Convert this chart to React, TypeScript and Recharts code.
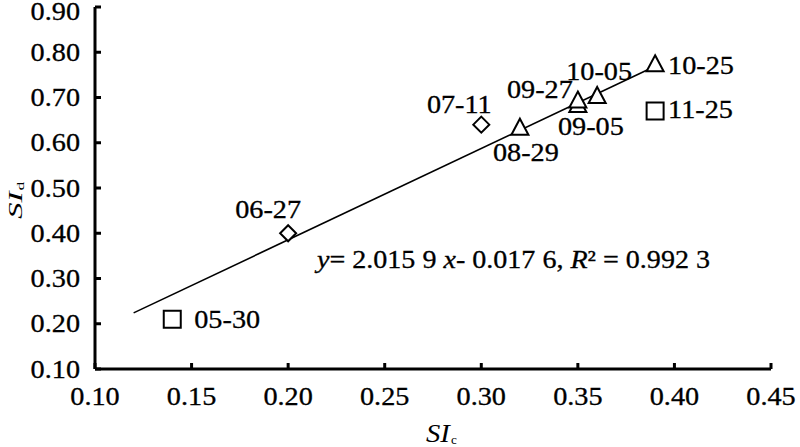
import { ScatterChart, Scatter, XAxis, YAxis } from "recharts";

// SIc vs SId, grouped by marker shape
const squarePts = [
  { x: 0.14, y: 0.21, date: "05-30" },
  { x: 0.39, y: 0.67, date: "11-25" },
];
const diamondPts = [
  { x: 0.2, y: 0.4, date: "06-27" },
  { x: 0.3, y: 0.64, date: "07-11" },
];
const trianglePts = [
  { x: 0.32, y: 0.63, date: "08-29" },
  { x: 0.35, y: 0.68, date: "09-05" },
  { x: 0.35, y: 0.69, date: "09-27" },
  { x: 0.36, y: 0.7, date: "10-05" },
  { x: 0.39, y: 0.77, date: "10-25" },
];
// fitted line ends
const fitLine = [
  { x: 0.12, y: 0.224 },
  { x: 0.39, y: 0.769 },
];
const xTicks = [0.1, 0.15, 0.2, 0.25, 0.3, 0.35, 0.4, 0.45];
const yTicks = [0.1, 0.2, 0.3, 0.4, 0.5, 0.6, 0.7, 0.8, 0.9];

// label offset from marker centre: dx, dy(baseline), anchor
const labelPlace: Record<string, [number, number, string]> = {
  "05-30": [22, 9, "start"],
  "06-27": [-20, -15, "middle"],
  "07-11": [-22, -12, "middle"],
  "08-29": [6, 32, "middle"],
  "09-05": [13, 28, "middle"],
  "09-27": [-38, -4, "middle"],
  "10-05": [2, -18, "middle"],
  "10-25": [13, 8, "start"],
  "11-25": [13, 7, "start"],
};

const FONT = "Liberation Serif, Times New Roman, serif";
const INK = "#000";

// the source figure's type is wider than plain Times, so stretch it a bit
const SText = ({ x, y, anchor = "start", size = 25, sx = 1.13, children }: any) => (
  <g transform={`translate(${x},${y}) scale(${sx},1)`}>
    <text
      x={0}
      y={0}
      textAnchor={anchor}
      style={{ fontFamily: FONT, fontSize: size }}
      fill={INK}
      stroke={INK}
      strokeWidth={0.3}
    >
      {children}
    </text>
  </g>
);

const XTick = (props: any) => {
  const { x, y, payload } = props;
  return (
    <g>
      <line x1={x} x2={x} y1={y} y2={y - 6} stroke={INK} strokeWidth={3} />
      <SText x={x} y={y + 36} anchor="middle">
        {payload.value.toFixed(2)}
      </SText>
    </g>
  );
};

const YTick = (props: any) => {
  const { x, y, payload } = props;
  return (
    <g>
      <line x1={x} x2={x + 6} y1={y} y2={y} stroke={INK} strokeWidth={3} />
      <SText x={x - 15} y={Math.max(y + 8.5, 19.5)} anchor="end">
        {payload.value.toFixed(2)}
      </SText>
    </g>
  );
};

function marker(kind: string) {
  return (props: any) => {
    const { cx, cy, payload } = props;
    let d = "";
    if (kind === "square") {
      d = `M${cx - 8.5},${cy - 8.5}h17v17h-17z`;
    } else if (kind === "diamond") {
      d = `M${cx},${cy - 8}L${cx + 8},${cy}L${cx},${cy + 8}L${cx - 8},${cy}z`;
    } else {
      d = `M${cx},${cy - 10.5}L${cx + 8.5},${cy + 5.5}L${cx - 8.5},${cy + 5.5}z`;
    }
    const [dx, dy, anchor] = labelPlace[payload.date] || [12, 7, "start"];
    return (
      <g>
        <path d={d} fill="#fff" stroke={INK} strokeWidth={2} />
        <SText x={cx + dx} y={cy + dy} anchor={anchor}>
          {payload.date}
        </SText>
      </g>
    );
  };
}

export default function App() {
  return (
    <div style={{ position: "absolute", left: 0, top: 0, width: 800, height: 447, background: "#fff" }}>
      <ScatterChart width={800} height={447} margin={{ top: 7, right: 29, bottom: 0, left: 0 }}>
        <XAxis
          type="number"
          dataKey="x"
          domain={[0.1, 0.45]}
          ticks={xTicks}
          height={78}
          tickSize={0}
          tickMargin={0}
          tickLine={false}
          axisLine={{ stroke: INK, strokeWidth: 3 }}
          tick={<XTick />}
          interval={0}
          allowDataOverflow
        />
        <YAxis
          type="number"
          dataKey="y"
          domain={[0.1, 0.9]}
          ticks={yTicks}
          width={95}
          tickSize={0}
          tickMargin={0}
          tickLine={false}
          axisLine={{ stroke: INK, strokeWidth: 3 }}
          tick={<YTick />}
          interval={0}
          allowDataOverflow
        />
        <Scatter
          data={fitLine}
          line={{ stroke: INK, strokeWidth: 1.6 }}
          shape={() => <g />}
          isAnimationActive={false}
        />
        <Scatter data={diamondPts} shape={marker("diamond")} isAnimationActive={false} />
        <Scatter data={squarePts} shape={marker("square")} isAnimationActive={false} />
        <Scatter data={trianglePts} shape={marker("triangle")} isAnimationActive={false} />
      </ScatterChart>
      <svg width={800} height={447} style={{ position: "absolute", left: 0, top: 0, pointerEvents: "none" }}>
        <text
          x={317}
          y={268}
          textLength={393}
          lengthAdjust="spacingAndGlyphs"
          style={{ fontFamily: FONT, fontSize: 25 }}
          fill={INK}
          stroke={INK}
          strokeWidth={0.3}
        >
          <tspan fontStyle="italic">y</tspan>
          <tspan>= 2.015 9 </tspan>
          <tspan fontStyle="italic">x</tspan>
          <tspan>- 0.017 6, </tspan>
          <tspan fontStyle="italic">R</tspan>
          <tspan>² = 0.992 3</tspan>
        </text>
        <g transform="translate(426,442) scale(1.1,1)">
          <text x={0} y={0} style={{ fontFamily: FONT, fontSize: 26 }} fill={INK}>
            <tspan fontStyle="italic">SI</tspan>
            <tspan fontSize={12} dx={1} dy={2}>c</tspan>
          </text>
        </g>
        <g transform="translate(22,219) rotate(-90) scale(1.75,1)">
          <text x={0} y={0} style={{ fontFamily: FONT, fontSize: 19 }} fill={INK}>
            <tspan fontStyle="italic">SI</tspan>
            <tspan fontSize={10} dx={0.5} dy={2}>d</tspan>
          </text>
        </g>
      </svg>
    </div>
  );
}
